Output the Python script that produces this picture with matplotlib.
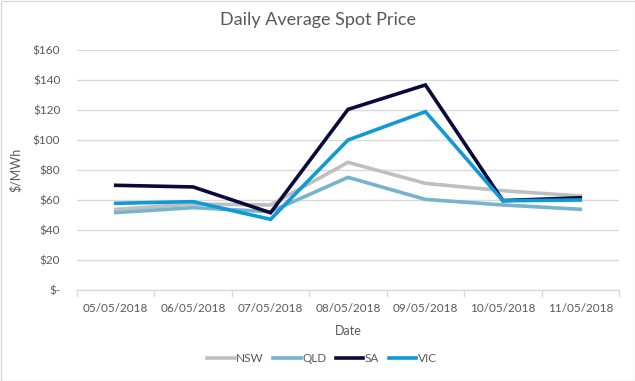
import matplotlib
matplotlib.use("Agg")
import matplotlib.pyplot as plt
from matplotlib.patches import Rectangle
import numpy as np

dates = ["05/05/2018", "06/05/2018", "07/05/2018", "08/05/2018",
         "09/05/2018", "10/05/2018", "11/05/2018"]
nsw = [53.8, 57.3, 56.7, 85.1, 71.1, 66.2, 62.7]
qld = [51.6, 54.9, 52.2, 75.1, 60.4, 56.7, 53.8]
sa = [69.8, 68.7, 51.5, 120.4, 136.7, 59.6, 61.5]
vic = [57.8, 58.9, 47.1, 100.0, 118.9, 59.5, 60.0]
series_names = ["NSW", "QLD", "SA", "VIC"]
series_colors = ["#bfbfbf", "#76b3cd", "#0b0b3b", "#0f9ad6"]
yticks = [0, 20, 40, 60, 80, 100, 120, 140, 160]
ytick_labels = ["$-", "$20", "$40", "$60", "$80", "$100", "$120", "$140", "$160"]

plt.rcParams['font.family'] = ['Lato', 'DejaVu Sans']
txt = "#595959"

fig = plt.figure(figsize=(6.35, 3.81), dpi=100)
ax = fig.add_axes([77/635, 1-290/381, (619-77)/635, 240/381])

x = np.arange(len(dates))
for vals, name, col in zip([nsw, qld, sa, vic], series_names, series_colors):
    ax.plot(x, vals, color=col, lw=2.6, label=name, solid_joinstyle='miter')

ax.set_xlim(-0.5, len(dates) - 0.5)
ax.set_ylim(0, 160)
ax.set_yticks(yticks)
ax.set_yticklabels(ytick_labels)
ax.set_xticks(x)
ax.set_xticklabels(dates)
ax.set_xticks(np.arange(-0.5, len(dates), 1), minor=True)
ax.tick_params(axis='x', which='major', length=0, pad=9, labelsize=8.5, labelcolor=txt)
ax.tick_params(axis='x', which='minor', length=5, color="#d9d9d9", width=1)
ax.tick_params(axis='y', length=0, pad=12, labelsize=8.5, labelcolor=txt)
ax.grid(axis='y', color="#d9d9d9", lw=1)
ax.set_axisbelow(True)
for s in ['top', 'right', 'left']:
    ax.spines[s].set_visible(False)
ax.spines['bottom'].set_color("#d9d9d9")
ax.spines['bottom'].set_linewidth(1)

ax.set_xlabel("Date", fontsize=9, color=txt, labelpad=8)
ax.set_ylabel("$/MWh", fontsize=9, color=txt, labelpad=8)
fig.text(318/635, 1-20/381, "Daily Average Spot Price", ha='center', va='center',
         fontsize=13, color=txt)

leg = fig.legend(loc='center', bbox_to_anchor=(322/635, 1-359/381), ncol=4,
                 frameon=False, fontsize=8.5, handlelength=2.3, columnspacing=0.8,
                 handletextpad=0.15)
for t in leg.get_texts():
    t.set_color(txt)

fig.patches.append(Rectangle((0.5/635, 0.5/381), 1-1/635, 1-1/381, transform=fig.transFigure,
                             fill=False, edgecolor="#d9d9d9", lw=1))

fig.savefig("out.png", dpi=100, facecolor="white")
